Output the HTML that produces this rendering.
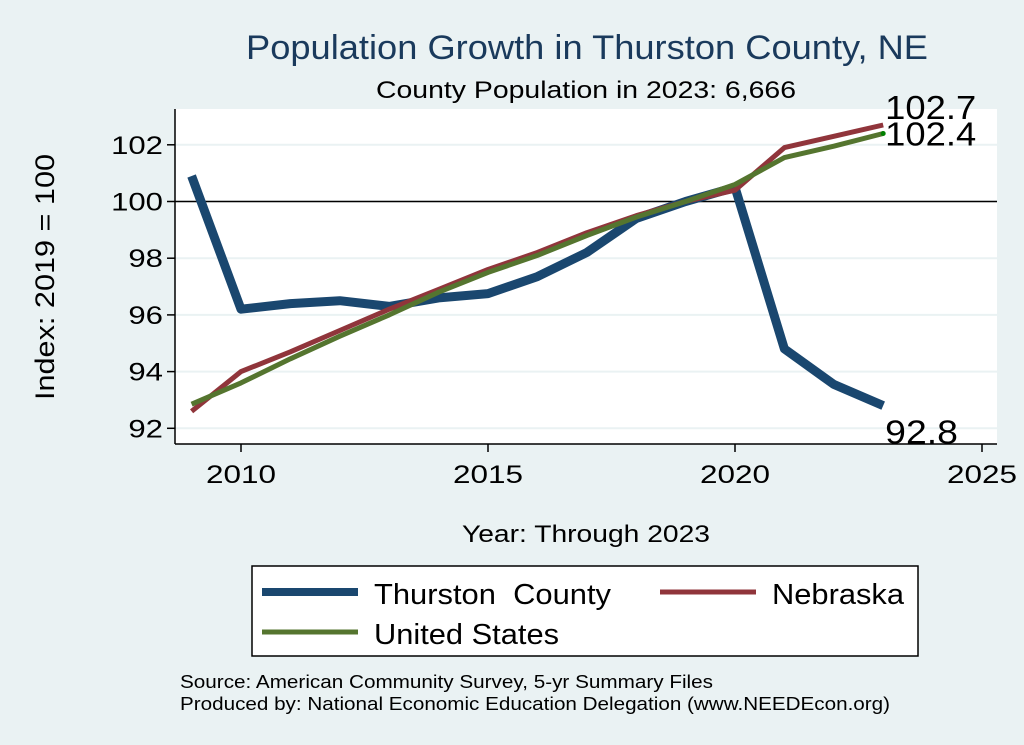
<!DOCTYPE html>
<html><head><meta charset="utf-8"><style>
body{margin:0;background:#eaf2f3;}
svg{display:block;font-family:"Liberation Sans",sans-serif;}
</style></head><body>
<svg width="1024" height="745" viewBox="0 0 1024 745">
<rect x="0" y="0" width="1024" height="745" fill="#eaf2f3"/>
<text x="246" y="59" font-size="34" fill="#1a3a5c" textLength="682" lengthAdjust="spacingAndGlyphs">Population Growth in Thurston County, NE</text>
<text x="376" y="98" font-size="24" fill="#000" textLength="420" lengthAdjust="spacingAndGlyphs">County Population in 2023: 6,666</text>
<rect x="175" y="109" width="822" height="335" fill="#fff"/>
<g id="grid"></g>
<g id="axes"></g>
<g id="series"></g>
<text transform="translate(54,277) rotate(-90)" font-size="27" text-anchor="middle" textLength="246" lengthAdjust="spacingAndGlyphs">Index: 2019 = 100</text>
<text x="462" y="542" font-size="24" textLength="248" lengthAdjust="spacingAndGlyphs">Year: Through 2023</text>
<g>
<rect x="252" y="566" width="666" height="90" fill="#fff" stroke="#000" stroke-width="1.5"/>
<line x1="262" y1="592" x2="358" y2="592" stroke="#1a476f" stroke-width="8"/>
<text x="374" y="604" font-size="29" textLength="237" lengthAdjust="spacingAndGlyphs">Thurston&#160; County</text>
<line x1="660" y1="592" x2="756" y2="592" stroke="#90353b" stroke-width="5"/>
<text x="772" y="604" font-size="29" textLength="132" lengthAdjust="spacingAndGlyphs">Nebraska</text>
<line x1="262" y1="632" x2="358" y2="632" stroke="#55752f" stroke-width="5"/>
<text x="374" y="644" font-size="29" textLength="185" lengthAdjust="spacingAndGlyphs">United States</text>
</g>
<text x="180" y="688" font-size="18" textLength="533" lengthAdjust="spacingAndGlyphs">Source: American Community Survey, 5-yr Summary Files</text>
<text x="180" y="710" font-size="18" textLength="710" lengthAdjust="spacingAndGlyphs">Produced by: National Economic Education Delegation (www.NEEDEcon.org)</text>
</svg>
<script>
const years=[2009,2010,2011,2012,2013,2014,2015,2016,2017,2018,2019,2020,2021,2022,2023];
const thurston=[100.9,96.2,96.4,96.5,96.3,96.6,96.75,97.35,98.2,99.4,100,100.5,94.8,93.55,92.8];
const nebraska=[92.6,94.0,94.7,95.45,96.2,96.9,97.6,98.2,98.9,99.5,100,100.4,101.9,102.3,102.7];
const unitedStates=[92.85,93.6,94.45,95.25,96.0,96.8,97.5,98.1,98.8,99.45,100,100.6,101.55,101.95,102.4];
const yTicks=[92,94,96,98,100,102];
const xTicks=[2010,2015,2020,2025];
const xs=y=>241+(y-2010)*49.4;
const ys=v=>201.5-(v-100)*28.35;
const NS="http://www.w3.org/2000/svg";
function mk(t,a,p){const e=document.createElementNS(NS,t);for(const k in a)e.setAttribute(k,a[k]);p.appendChild(e);return e;}
const grid=document.getElementById('grid'),axes=document.getElementById('axes'),ser=document.getElementById('series');
yTicks.forEach(v=>{
 const g=mk('line',{x1:175,x2:997,y1:ys(v),y2:ys(v),stroke:'#eaf2f3','stroke-width':2},grid);
 
 
 const t=mk('line',{x1:167,x2:175,y1:ys(v),y2:ys(v),stroke:'#000','stroke-width':1.5},axes);
 
 
 const s=String(v);
 const l=mk('text',{x:163,y:ys(v)+9,'font-size':25,'text-anchor':'end',textLength:s.length*17.3,lengthAdjust:'spacingAndGlyphs'},axes);
 l.textContent=s;
 
 
});
const ref=mk('line',{x1:175,x2:997,y1:ys(100),y2:ys(100),stroke:'#000','stroke-width':1.5},grid);


const ya=mk('line',{x1:175,x2:175,y1:109,y2:444,stroke:'#000','stroke-width':1.5},axes);


const xa=mk('line',{x1:175,x2:997,y1:444,y2:444,stroke:'#000','stroke-width':1.5},axes);


xTicks.forEach(y=>{
 const t=mk('line',{x1:xs(y),x2:xs(y),y1:444,y2:452,stroke:'#000','stroke-width':1.5},axes);
 
 
 const l=mk('text',{x:xs(y),y:483,'font-size':25,'text-anchor':'middle',textLength:70,lengthAdjust:'spacingAndGlyphs'},axes);
 l.textContent=y;
 
 
});
function line(vals,color,w,name){
 const d=vals.map((v,i)=>(i?'L':'M')+xs(years[i]).toFixed(1)+','+ys(v).toFixed(1)).join('');
 const p=mk('path',{d:d,fill:'none',stroke:color,'stroke-width':w,'stroke-linejoin':'round'},ser);
 
 
}
line(thurston,'#1a476f',9,'thurston-line');
line(nebraska,'#90353b',5,'nebraska-line');
line(unitedStates,'#55752f',5,'us-line');
const n=years.length-1,lx=xs(years[n]);
const dot=mk('circle',{cx:lx,cy:ys(unitedStates[n]),r:2.5,fill:'#008000'},ser);


function lab(v,y,name){const s=v.toFixed(1);const t=mk('text',{x:lx+2,y:y,'font-size':33,textLength:s.length*18.2,lengthAdjust:'spacingAndGlyphs'},ser);t.textContent=s;
 
 }
lab(nebraska[n],ys(nebraska[n])-6,'nebraska-end-label');
lab(unitedStates[n],ys(unitedStates[n])+12,'us-end-label');
lab(thurston[n],ys(thurston[n])+38,'thurston-end-label');
</script>
</body></html>
